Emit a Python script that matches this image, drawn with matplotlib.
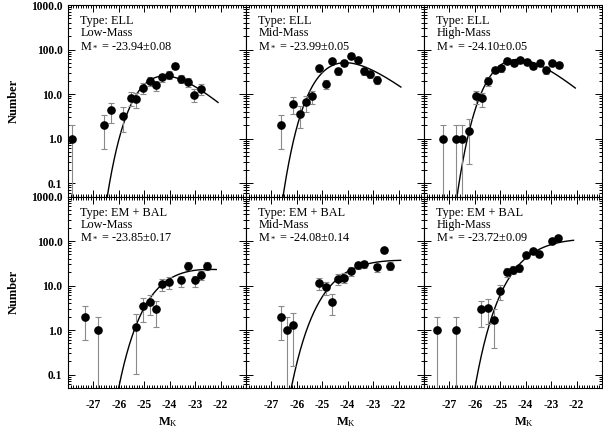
import numpy as np
import matplotlib
matplotlib.use("Agg")
import matplotlib.pyplot as plt
from matplotlib.ticker import (MultipleLocator, FixedLocator, LogLocator, FuncFormatter,
                               NullFormatter)

plt.rcParams['font.family'] = ['Liberation Serif', 'DejaVu Serif']
plt.rcParams['mathtext.fontset'] = 'custom'
plt.rcParams['mathtext.rm'] = 'Liberation Serif'
plt.rcParams['mathtext.it'] = 'Liberation Serif:italic'
plt.rcParams['mathtext.bf'] = 'Liberation Serif:bold'

# Binned counts (absolute K magnitude, number)
mk_ell_low = [-27.85, -26.59, -26.31, -25.83, -25.54, -25.31, -25.05, -24.78, -24.55,
              -24.29, -24.04, -23.80, -23.54, -23.28, -23.03, -22.78]
n_ell_low = [1.0, 2.0, 4.3, 3.2, 8.3, 7.7, 13.8, 20, 15.7, 24, 27, 43, 22, 19, 9.6, 13]

mk_ell_mid = [-26.64, -26.16, -25.88, -25.64, -25.40, -25.14, -24.87, -24.63, -24.38,
              -24.13, -23.86, -23.61, -23.36, -23.11, -22.86]
n_ell_mid = [2.0, 6.1, 3.6, 6.6, 8.9, 37.6, 17, 54, 33, 50, 73, 57, 33, 28, 21]

mk_ell_high = [-27.24, -26.76, -26.50, -26.24, -25.97, -25.71, -25.48, -25.22, -24.98,
               -24.73, -24.48, -24.21, -23.96, -23.70, -23.44, -23.22, -22.95, -22.69]
n_ell_high = [1.0, 1.0, 1.0, 1.5, 8.9, 8.0, 20, 35, 38, 56, 49, 57, 53, 43, 51, 34, 49, 46]

mk_em_low = [-27.33, -26.81, -25.31, -25.05, -24.78, -24.52, -24.29, -24.03, -23.54,
             -23.30, -23.02, -22.78, -22.54]
n_em_low = [2.0, 1.0, 1.2, 3.4, 4.2, 2.9, 11.0, 11.8, 13.1, 28, 13.1, 17.4, 28]

mk_em_mid = [-26.64, -26.39, -26.16, -25.14, -24.87, -24.62, -24.38, -24.13, -23.87,
             -23.61, -23.35, -22.85, -22.59, -22.34]
n_em_mid = [2.0, 1.0, 1.3, 11.4, 9.1, 4.3, 14, 15, 21, 28.5, 30, 25.6, 62, 28]

mk_em_high = [-27.48, -26.73, -25.74, -25.48, -25.24, -25.00, -24.75, -24.49, -24.25,
              -24.00, -23.73, -23.46, -22.96, -22.75]
n_em_high = [1.0, 1.0, 2.9, 3.1, 1.7, 7.4, 20, 22.6, 24.6, 49, 59, 52, 98, 117]

types = ["Type: ELL"] * 3 + ["Type: EM + BAL"] * 3
masses = ["Low-Mass", "Mid-Mass", "High-Mass"] * 2
mstar = [-23.94, -23.99, -24.10, -23.85, -24.08, -23.72]
mstar_err = [0.08, 0.05, 0.05, 0.17, 0.14, 0.09]
xticks = [-27, -26, -25, -24, -23, -22]

# Schechter fit: slope alpha and normalisation, curve drawn up to m_end
alpha = [0.27, 0.10, 0.22, -0.73, -0.89, -0.92]
norm = [67, 137, 159, 43, 52.6, 147]
m_end = [-22.10, -21.91, -22.05, -22.17, -21.92, -22.12]

mags = [mk_ell_low, mk_ell_mid, mk_ell_high, mk_em_low, mk_em_mid, mk_em_high]
counts = [n_ell_low, n_ell_mid, n_ell_high, n_em_low, n_em_mid, n_em_high]


def schechter(m, ms, a, phi):
    u = 10 ** (0.4 * (ms - m))
    return phi * u ** (a + 1) * np.exp(-u)


fig, axes = plt.subplots(2, 3, figsize=(6.03, 4.28), dpi=100, sharex=True, sharey=True)
fig.subplots_adjust(left=68 / 603, right=602 / 603, top=1 - 5 / 428, bottom=1 - 388 / 428,
                    wspace=0, hspace=0)

for i, ax in enumerate(axes.flat):
    m = np.array(mags[i])
    n = np.array(counts[i])
    ax.errorbar(m, n, yerr=np.sqrt(n), fmt='o', color='black', ms=5.2,
                ecolor='#8a8a8a', elinewidth=0.8, capsize=2.3, capthick=0.8, zorder=3)
    mm = np.linspace(-28, m_end[i], 400)
    ax.plot(mm, schechter(mm, mstar[i], alpha[i], norm[i]), color='black', lw=1.0, zorder=2)

    ax.set_yscale('log')
    ax.set_ylim(0.05, 1000)
    ax.set_xlim(-28, -21)
    ax.xaxis.set_major_locator(FixedLocator(xticks))
    ax.xaxis.set_minor_locator(MultipleLocator(0.1))
    ax.yaxis.set_major_locator(LogLocator(base=10, numticks=10))
    ax.yaxis.set_minor_locator(LogLocator(base=10, subs=np.arange(2, 10), numticks=10))
    ax.yaxis.set_minor_formatter(NullFormatter())
    ax.yaxis.set_major_formatter(FuncFormatter(lambda v, p: f"{v:.1f}"))
    ax.xaxis.set_major_formatter(FuncFormatter(lambda v, p: f"{v:.0f}"))
    ax.tick_params(which='both', direction='in', top=True, right=True, width=0.7)
    ax.tick_params(which='major', length=5)
    ax.tick_params(which='minor', length=2.5)
    ax.tick_params(axis='y', which='major', pad=4)
    ax.tick_params(axis='x', which='major', pad=8)
    for lab in ax.get_xticklabels() + ax.get_yticklabels():
        lab.set_fontsize(8.3)
        lab.set_fontweight('bold')
    for sp in ax.spines.values():
        sp.set_linewidth(0.8)

    ax.text(0.07, 0.900, types[i], transform=ax.transAxes, fontsize=8.8, va='baseline')
    ax.text(0.07, 0.836, masses[i], transform=ax.transAxes, fontsize=8.8, va='baseline')
    ax.text(0.07, 0.772, "M$_*$ = %.2f\u00b1%.2f" % (mstar[i], mstar_err[i]),
            transform=ax.transAxes, fontsize=8.8, va='baseline')

for ax in axes[1]:
    ax.set_xlabel("M$_{\\rm K}$", fontsize=9, fontweight='bold')
    ax.xaxis.set_label_coords(0.56, -0.14)
for ax in axes[:, 0]:
    ax.set_ylabel("Number", fontsize=9, fontweight='bold')
    ax.yaxis.set_label_coords(-0.27, 0.5)

fig.savefig("out.png", dpi=100)
